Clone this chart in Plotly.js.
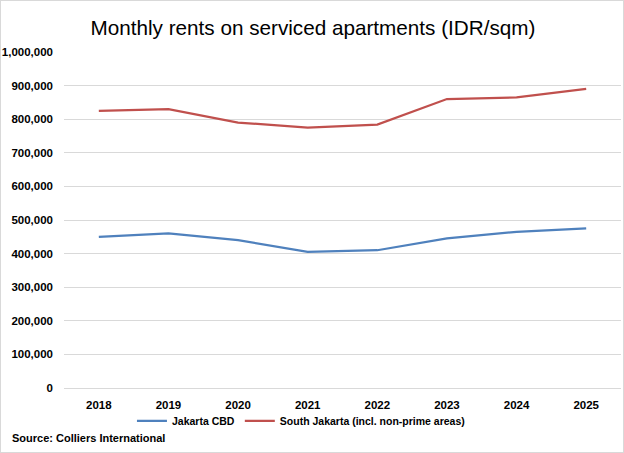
<!DOCTYPE html>
<html>
<head>
<meta charset="utf-8">
<script src="https://cdn.plot.ly/plotly-3.0.1.min.js"></script>
<style>
  html, body { margin: 0; padding: 0; background: #ffffff; }
  #chart { width: 622px; height: 451px; border: 1px solid #d9d9d9; }
</style>
</head>
<body>
<div id="chart"></div>
<script>
const years = ["2018", "2019", "2020", "2021", "2022", "2023", "2024", "2025"];
const jakartaCBD = [450000, 460000, 440000, 405000, 410000, 445000, 465000, 475000];
const southJakarta = [825000, 830000, 790000, 775000, 784000, 860000, 865000, 890000];
const seriesNames = ["Jakarta CBD", "South Jakarta (incl. non-prime areas)"];
const yTicks = [0, 100000, 200000, 300000, 400000, 500000, 600000, 700000, 800000, 900000, 1000000];

const FONT = '"Liberation Sans", Arial, sans-serif';

const traces = [
  {
    x: years, y: jakartaCBD, name: seriesNames[0], type: 'scatter', mode: 'lines',
    line: { color: '#4F81BD', width: 2.25 }
  },
  {
    x: years, y: southJakarta, name: seriesNames[1], type: 'scatter', mode: 'lines',
    line: { color: '#C0504D', width: 2.25 }
  }
];

const layout = {
  width: 622, height: 451,
  margin: { l: 63, r: 2, t: 51, b: 64 },
  paper_bgcolor: '#ffffff', plot_bgcolor: '#ffffff',
  font: { family: FONT, color: '#000000' },
  title: {
    text: 'Monthly rents on serviced apartments (IDR/sqm)',
    font: { family: FONT, size: 20.7, color: '#000000' },
    x: 0.447, xanchor: 'center', xref: 'paper',
    y: 0.94, yanchor: 'middle'
  },
  xaxis: {
    type: 'category', range: [-0.5, 7.5],
    showgrid: false, showline: false, zeroline: false, ticks: '',
    tickfont: { family: FONT, size: 11.5, color: '#000000', weight: 'bold' },
    ticklabelstandoff: 8, fixedrange: true
  },
  yaxis: {
    range: [0, 1000000], tickvals: yTicks, tickformat: ',d',
    showgrid: true, gridcolor: '#d9d9d9', gridwidth: 1,
    zeroline: true, zerolinecolor: '#d9d9d9', zerolinewidth: 1,
    showline: false, ticks: '',
    tickfont: { family: FONT, size: 11.5, color: '#000000', weight: 'bold' },
    ticklabelstandoff: 10, fixedrange: true
  },
  showlegend: true,
  legend: {
    orientation: 'h', x: 0.122, xanchor: 'left', y: -0.098, yanchor: 'middle',
    font: { family: FONT, size: 10.5, color: '#000000', weight: 'bold' },
    itemwidth: 30, bgcolor: 'rgba(0,0,0,0)', tracegroupgap: 0
  },
  annotations: [
    {
      text: 'Source: Colliers International', showarrow: false,
      xref: 'paper', yref: 'paper', x: -0.097, xanchor: 'left', y: -0.149, yanchor: 'middle',
      font: { family: FONT, size: 11, color: '#000000', weight: 'bold' }
    }
  ]
};

Plotly.newPlot('chart', traces, layout, { staticPlot: true, displayModeBar: false });
</script>
</body>
</html>
